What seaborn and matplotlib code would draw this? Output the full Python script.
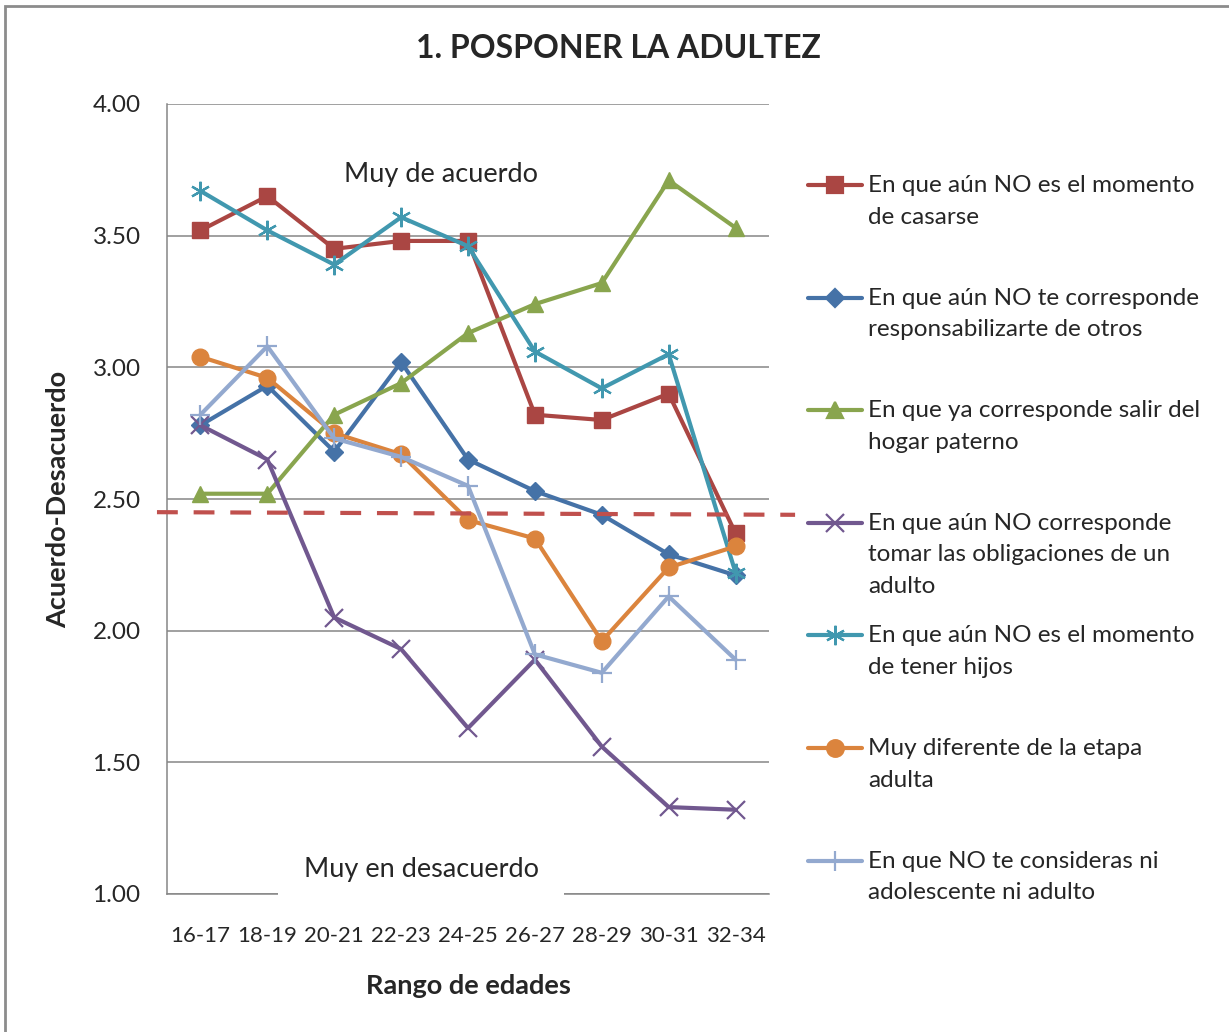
import numpy as np
import pandas as pd
import seaborn as sns
import matplotlib
matplotlib.use('Agg')
import matplotlib.pyplot as plt
from matplotlib.lines import Line2D
from matplotlib.patches import Rectangle

# Data
ages = ['16-17', '18-19', '20-21', '22-23', '24-25', '26-27', '28-29', '30-31', '32-34']

casarse = [3.52, 3.65, 3.45, 3.48, 3.48, 2.82, 2.80, 2.90, 2.37]
responsabilizarte = [2.78, 2.93, 2.68, 3.02, 2.65, 2.53, 2.44, 2.29, 2.21]
salir_hogar = [2.52, 2.52, 2.82, 2.94, 3.13, 3.24, 3.32, 3.71, 3.53]
obligaciones = [2.78, 2.65, 2.05, 1.93, 1.63, 1.89, 1.56, 1.33, 1.32]
tener_hijos = [3.67, 3.52, 3.39, 3.57, 3.46, 3.06, 2.92, 3.05, 2.22]
etapa_adulta = [3.04, 2.96, 2.75, 2.67, 2.42, 2.35, 1.96, 2.24, 2.32]
ni_adolescente = [2.82, 3.08, 2.73, 2.66, 2.55, 1.91, 1.84, 2.13, 1.89]

labels = [
    'En que aún NO es el momento\nde casarse',
    'En que aún NO te corresponde\nresponsabilizarte de otros',
    'En que ya corresponde salir del\nhogar paterno',
    'En que aún NO corresponde\ntomar las obligaciones de un\nadulto',
    'En que aún NO es el momento\nde tener hijos',
    'Muy diferente de la etapa\nadulta',
    'En que NO te consideras ni\nadolescente ni adulto',
]
series = [casarse, responsabilizarte, salir_hogar, obligaciones,
          tener_hijos, etapa_adulta, ni_adolescente]

# reference line (mid point of the scale), runs a bit past the plot area
cutoff_x = [-0.65, 8.89]
cutoff_y = [2.45, 2.44]

# styles
colors = ['#AA4643', '#4572A7', '#89A54E', '#71588F', '#4198AF', '#DB843D', '#93A9CF']
markers = ['s', 'D', '^', 'x', (6, 2, 0), 'o', '+']
msizes = [11, 9.5, 11, 12.5, 14, 12, 15]

sns.set_style('white')
plt.rcParams['font.family'] = ['Lato', 'DejaVu Sans']

fig = plt.figure(figsize=(12.29, 10.32), dpi=100)
ax = fig.add_axes([167 / 1229, 1 - 894 / 1032, 602 / 1229, 790 / 1032])

grid_c = '#868686'
for vals, c, m, s in zip(series, colors, markers, msizes):
    sns.lineplot(x=ages, y=vals, ax=ax, color=c, marker=m, markersize=s,
                 markeredgecolor=c, markeredgewidth=1.6 if m in ('x', '+') or isinstance(m, tuple) else 1,
                 linewidth=3, sort=False, clip_on=False)

ax.plot(cutoff_x, cutoff_y, color='#C0504D', lw=3, dashes=(5, 3.8),
        clip_on=False, zorder=5)

ax.set_xlim(-0.5, 8.5)
ax.set_ylim(1.0, 4.0)
ax.set_yticks(np.arange(1.0, 4.01, 0.5))
ax.yaxis.set_major_formatter(matplotlib.ticker.FormatStrFormatter('%.2f'))
ax.grid(axis='y', color=grid_c, lw=1.1)
ax.grid(axis='x', visible=False)
ax.set_axisbelow(True)
for side in ('top', 'right'):
    ax.spines[side].set_visible(False)
for side in ('left', 'bottom'):
    ax.spines[side].set_color(grid_c)
    ax.spines[side].set_linewidth(1.1)
ax.tick_params(axis='y', length=0, pad=19, labelsize=17.5)
ax.tick_params(axis='x', length=0, pad=23, labelsize=16)

ax.set_xlabel('Rango de edades', fontsize=19.5, fontweight='bold')
ax.set_ylabel('Acuerdo-Desacuerdo', fontsize=19.5, fontweight='bold')
ax.xaxis.set_label_coords(0.5, -0.1165)
ax.xaxis.label.set_va('center')
ax.yaxis.set_label_coords(-0.181, 0.5)
ax.yaxis.label.set_va('center')

ax.text(0.455, 0.911, 'Muy de acuerdo', transform=ax.transAxes, ha='center',
        va='center', fontsize=19.5, bbox=dict(fc='white', ec='none', pad=6))
ax.text(0.422, 0.031, 'Muy en desacuerdo', transform=ax.transAxes, ha='center',
        va='center', fontsize=19.5, zorder=6,
        bbox=dict(fc='white', ec='none', boxstyle='square,pad=0.95'))

fig.text(618 / 1229, 1 - 48 / 1032, '1. POSPONER LA ADULTEZ', ha='center',
         va='center', fontsize=23, fontweight='bold')

# legend, laid out like the spreadsheet one (marker on first text line)
step = 112.6
for i, (lab, c, m, s) in enumerate(zip(labels, colors, markers, msizes)):
    yc = 1 - (185 + i * step) / 1032
    fig.add_artist(Line2D([808 / 1229, 835 / 1229, 862 / 1229], [yc, yc, yc],
                          color=c, lw=3, marker=m, markersize=s, markevery=[1],
                          markeredgecolor=c, markeredgewidth=1.6))
    fig.text(868 / 1229, yc + 10 / 1032, lab, ha='left', va='top',
             fontsize=17.5, linespacing=1.62)

# chart frame
fig.add_artist(Rectangle((5 / 1229, -0.1), 1.2, 1.1 - 6 / 1032,
                         transform=fig.transFigure, fill=False,
                         edgecolor='#8C8C8C', lw=2))

fig.savefig('out.png', dpi=100)
